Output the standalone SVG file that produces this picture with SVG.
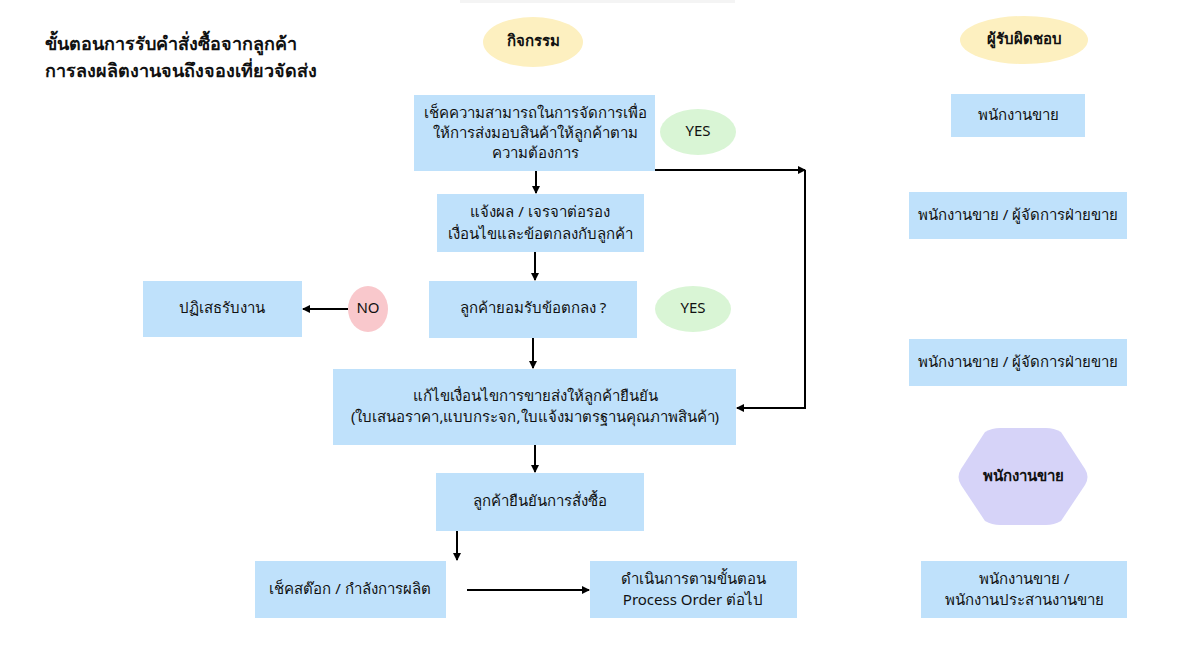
<svg xmlns="http://www.w3.org/2000/svg" width="1190" height="665" viewBox="0 0 1190 665">
<defs>
<marker id="ah" markerWidth="8" markerHeight="8" refX="7" refY="4" orient="auto" markerUnits="userSpaceOnUse"><path d="M0,0 L8,4 L0,8 z" fill="#000"/></marker>
<style>
text{font-family:"Noto Sans","Liberation Sans",sans-serif;font-size:15px;fill:#111;text-anchor:middle;dominant-baseline:middle}
.box{fill:#bfe1fb}
.t{font-weight:bold;font-size:18px;text-anchor:start}
.b{font-weight:bold}
.ln{stroke:#000;stroke-width:2;fill:none}
</style>
</defs>
<rect width="1190" height="665" fill="#fff"/>
<rect x="460" y="0" width="275" height="3" fill="#f4f4f4"/>
<text class="t" x="45" y="45">ขั้นตอนการรับคำสั่งซื้อจากลูกค้า</text>
<text class="t" x="45" y="72">การลงผลิตงานจนถึงจองเที่ยวจัดส่ง</text>
<g id="h1"><ellipse cx="533" cy="42" rx="50" ry="25" fill="#fdf0c0"/><text class="b" x="533" y="42">กิจกรรม</text></g>
<g id="h2"><ellipse cx="1024" cy="40" rx="64" ry="24" fill="#fdf0c0"/><text class="b" x="1024" y="40">ผู้รับผิดชอบ</text></g>
<g id="n1"><rect class="box" x="414" y="95" width="241" height="76"/><text x="535" y="114">เช็คความสามารถในการจัดการเพื่อ</text><text x="535" y="134">ให้การส่งมอบสินค้าให้ลูกค้าตาม</text><text x="535" y="154">ความต้องการ</text></g>
<g id="y1"><ellipse cx="698" cy="132" rx="38" ry="23" fill="#d9f5d5"/><text x="698" y="132">YES</text></g>
<g id="n2"><rect class="box" x="437" y="194" width="207" height="58"/><text x="540" y="213">แจ้งผล / เจรจาต่อรอง</text><text x="540" y="235">เงื่อนไขและข้อตกลงกับลูกค้า</text></g>
<g id="n3"><rect class="box" x="429" y="281" width="208" height="57"/><text x="533" y="309">ลูกค้ายอมรับข้อตกลง ?</text></g>
<g id="no"><ellipse cx="368" cy="309" rx="20" ry="23" fill="#f9c8cc"/><text x="368" y="309">NO</text></g>
<g id="y2"><ellipse cx="693" cy="309" rx="38" ry="23" fill="#d9f5d5"/><text x="693" y="309">YES</text></g>
<g id="rej"><rect class="box" x="143" y="281" width="159" height="56"/><text x="222" y="309">ปฏิเสธรับงาน</text></g>
<g id="n4"><rect class="box" x="333" y="369" width="403" height="76"/><text x="535" y="397">แก้ไขเงื่อนไขการขายส่งให้ลูกค้ายืนยัน</text><text x="535" y="418">(ใบเสนอราคา,แบบกระจก,ใบแจ้งมาตรฐานคุณภาพสินค้า)</text></g>
<g id="n5"><rect class="box" x="436" y="473" width="208" height="58"/><text x="540" y="502">ลูกค้ายืนยันการสั่งซื้อ</text></g>
<g id="n6"><rect class="box" x="255" y="561" width="191" height="57"/><text x="350" y="590">เช็คสต๊อก / กำลังการผลิต</text></g>
<g id="n7"><rect class="box" x="590" y="561" width="207" height="57"/><text x="693" y="580">ดำเนินการตามขั้นตอน</text><text x="693" y="601">Process Order ต่อไป</text></g>
<g id="r1"><rect class="box" x="951" y="94" width="134" height="43"/><text x="1018" y="116">พนักงานขาย</text></g>
<g id="r2"><rect class="box" x="909" y="192" width="218" height="47"/><text x="1018" y="216">พนักงานขาย / ผู้จัดการฝ่ายขาย</text></g>
<g id="r3"><rect class="box" x="909" y="339" width="218" height="47"/><text x="1018" y="363">พนักงานขาย / ผู้จัดการฝ่ายขาย</text></g>
<g id="r4"><path d="M985,432 Q992,428 1000,428 L1046,428 Q1054,428 1061,432 L1085,469 Q1090,477 1085,485 L1061,521 Q1054,525 1046,525 L1000,525 Q992,525 985,521 L961,485 Q956,477 961,469 Z" fill="#d6d3f8"/><text class="b" x="1023" y="477">พนักงานขาย</text></g>
<g id="r5"><rect class="box" x="921" y="561" width="206" height="57"/><text x="1024" y="580">พนักงานขาย /</text><text x="1024" y="601">พนักงานประสานงานขาย</text></g>
<g id="connectors">
<path class="ln" d="M536,171 V193" marker-end="url(#ah)"/>
<path class="ln" d="M655,170 H805" marker-end="url(#ah)"/>
<path class="ln" d="M805,170 V408 H737" marker-end="url(#ah)"/>
<path class="ln" d="M535,252 V280" marker-end="url(#ah)"/>
<path class="ln" d="M348,309 H303" marker-end="url(#ah)"/>
<path class="ln" d="M533,338 V368" marker-end="url(#ah)"/>
<path class="ln" d="M535,445 V472" marker-end="url(#ah)"/>
<path class="ln" d="M457,531 V560" marker-end="url(#ah)"/>
<path class="ln" d="M467,590 H589" marker-end="url(#ah)"/>
</g>
</svg>
